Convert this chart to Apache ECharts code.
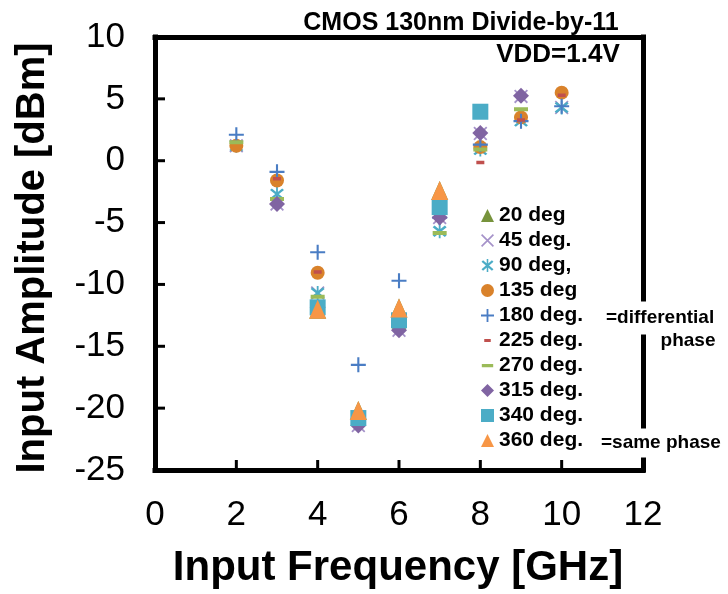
<!DOCTYPE html>
<html>
<head>
<meta charset="utf-8">
<script src="https://cdn.jsdelivr.net/npm/echarts@6/dist/echarts.min.js"></script>
<style>
  html, body { margin: 0; padding: 0; background: #fff; }
  #chart { width: 728px; height: 594px; }
</style>
</head>
<body>
<div id="chart"></div>
<script>
// Input frequency points [GHz]
const freqs = [2, 3, 4, 5, 6, 7, 8, 9, 10];

// Minimum input amplitude [dBm] per phase offset (null = no measurement)
const deg20  = [null, null, -12.0, -20.2, -11.9, -2.4, null, null, null];
const deg45  = [1.2, -3.5, -10.7, -21.4, -13.7, -4.6, 2.2, 5.2, 4.3];
const deg90  = [1.2, -2.7, -10.7, -21.1, -13.4, -5.7, 0.9, 3.2, 4.3];
const deg135 = [1.2, -1.6, -9.05, -20.8, -13.0, -3.8, 1.1, 3.5, 5.5];
const deg180 = [2.1, -0.9, -7.4, -16.5, -9.7, -4.6, 1.3, 3.2, 4.4];
const deg225 = [1.5, -1.45, -9.0, -21.0, -13.3, -4.8, -0.15, 3.3, 5.3];
const deg270 = [1.5, -3.1, -11.0, -21.2, -13.5, -5.85, 0.9, 4.15, null];
const deg315 = [null, -3.5, -11.85, -21.4, -13.7, -4.6, 2.25, 5.25, null];
const deg340 = [null, null, -11.85, -20.8, -12.9, -3.75, 3.96, null, null];
const deg360 = [null, null, -12.0, -20.2, -11.9, -2.4, null, null, null];

const seriesNames = ['20 deg', '45 deg.', '90 deg,', '135 deg', '180 deg.',
                     '225 deg.', '270 deg.', '315 deg.', '340 deg.', '360 deg.'];

// Axis ranges and tick steps
const xRange = [0, 12], xStep = 2;
const yRange = [-25, 10], yStep = 5;

function pts(vals) {
  return freqs.map((f, i) => vals[i] == null ? null : [f, vals[i]]).filter(Boolean);
}

// Marker shapes
const PLUS = 'path://M4.3,0h1.4v10h-1.4z M0,4.3h10v1.4h-10z';
const CROSS = 'path://M0,0.9 L0.9,0 L10,9.1 L9.1,10 Z M9.1,0 L10,0.9 L0.9,10 L0,9.1 Z';
const STAR = 'path://M4.4,0h1.2v10h-1.2z M0.4,2.1 L1.6,0.9 L9.6,7.9 L8.4,9.1 Z M8.4,0.9 L9.6,2.1 L1.6,9.1 L0.4,7.9 Z';
// dashes live in a square 16x16 box (tiny corner dots fix the box size)
const SHORT_DASH = 'path://M0,0h0.01v0.01h-0.01z M4,6.25h8v3.5h-8z M15.99,15.99h0.01v0.01h-0.01z';
const LONG_DASH = 'path://M0,0h0.01v0.01h-0.01z M1,6h14v4h-14z M15.99,15.99h0.01v0.01h-0.01z';

const styles = [
  { data: deg20,  symbol: 'triangle', size: [17, 19], color: '#77933C' },
  { data: deg45,  symbol: CROSS,      size: 14,       color: '#A592C9' },
  { data: deg90,  symbol: STAR,       size: 14,       color: '#4BACC6' },
  { data: deg135, symbol: 'circle',   size: 14,       color: '#D9822B' },
  { data: deg180, symbol: PLUS,       size: 15,       color: '#4A7DC4' },
  { data: deg225, symbol: SHORT_DASH, size: 16,       color: '#C0504D' },
  { data: deg270, symbol: LONG_DASH,  size: 16,       color: '#9BBB59' },
  { data: deg315, symbol: 'diamond',  size: 16,       color: '#8064A2' },
  { data: deg340, symbol: 'rect',     size: 16,       color: '#4BACC6' },
  { data: deg360, symbol: 'triangle', size: [17, 19], color: '#F79646' }
];

const series = styles.map((s, i) => ({
  type: 'scatter',
  name: seriesNames[i],
  symbol: s.symbol,
  symbolSize: s.size,
  data: pts(s.data),
  itemStyle: { color: s.color, opacity: 1 },
  emphasis: { disabled: true },
  animation: false
}));

const ARIAL = '"Liberation Sans", Arial, sans-serif';
const boldArial = (px) => 'bold ' + px + 'px ' + ARIAL;
const BLACK_LINE = { show: true, onZero: false, lineStyle: { color: '#000', width: 5, cap: 'square' } };

// Titles and side notes
const texts = [
  { type: 'text', z: 100, x: 461, y: 23,
    style: { text: 'CMOS 130nm Divide-by-11', font: boldArial(25), fill: '#000', align: 'center', verticalAlign: 'middle' } },
  { type: 'text', z: 100, x: 558, y: 55,
    style: { text: 'VDD=1.4V', font: boldArial(26), fill: '#000', align: 'center', verticalAlign: 'middle' } },
  { type: 'text', z: 100, x: 604, y: 318,
    style: { text: '=differential', font: boldArial(19), fill: '#000', align: 'left', verticalAlign: 'middle',
             backgroundColor: '#fff', padding: [7, 2] } },
  { type: 'text', z: 100, x: 688, y: 341,
    style: { text: 'phase', font: boldArial(19), fill: '#000', align: 'center', verticalAlign: 'middle' } },
  { type: 'text', z: 100, x: 599, y: 443,
    style: { text: '=same phase', font: boldArial(19), fill: '#000', align: 'left', verticalAlign: 'middle',
             backgroundColor: '#fff', padding: [5, 2] } },
  { type: 'text', z: 100, x: 398, y: 568,
    style: { text: 'Input Frequency [GHz]', font: boldArial(42), fill: '#000', align: 'center', verticalAlign: 'middle' } },
  { type: 'text', z: 100, x: 33, y: 258, rotation: Math.PI / 2,
    style: { text: 'Input Amplitude [dBm]', font: boldArial(40), fill: '#000', align: 'center', verticalAlign: 'middle' } }
];

const chart = echarts.init(document.getElementById('chart'), null, { renderer: 'canvas' });
chart.setOption({
  animation: false,
  backgroundColor: '#fff',
  grid: { left: 155, right: 85, top: 37, bottom: 124, show: false },
  xAxis: [
    { type: 'value', position: 'bottom', min: xRange[0], max: xRange[1], interval: xStep, z: 5,
      axisLine: BLACK_LINE, axisTick: { show: false }, splitLine: { show: false },
      axisLabel: { fontSize: 35, fontFamily: ARIAL, color: '#000', margin: 28 } },
    // top frame edge
    { type: 'value', position: 'top', min: xRange[0], max: xRange[1], interval: xStep, z: 5,
      axisLine: BLACK_LINE, axisTick: { show: false }, axisLabel: { show: false }, splitLine: { show: false } }
  ],
  yAxis: [
    { type: 'value', position: 'left', min: yRange[0], max: yRange[1], interval: yStep, z: 5,
      axisLine: BLACK_LINE, axisTick: { show: false }, splitLine: { show: false },
      axisLabel: { fontSize: 35, fontFamily: ARIAL, color: '#000', margin: 30 } },
    // right frame edge
    { type: 'value', position: 'right', min: yRange[0], max: yRange[1], interval: yStep, z: 5,
      axisLine: BLACK_LINE, axisTick: { show: false }, axisLabel: { show: false }, splitLine: { show: false } }
  ],
  legend: {
    orient: 'vertical', left: 481, top: 205, padding: 0,
    itemWidth: 13, itemHeight: 13, itemGap: 4,
    selectedMode: false,
    textStyle: { fontFamily: ARIAL, fontWeight: 'bold', fontSize: 21, color: '#000', lineHeight: 20 },
    data: seriesNames
  },
  graphic: { elements: texts },
  series: series
});

// Inward tick marks on the bottom and left axes, positioned through the axis scales
const TICK_LEN = 10;
const ticks = [];
const yBottom = chart.convertToPixel({ yAxisIndex: 0 }, yRange[0]);
const xLeft = chart.convertToPixel({ xAxisIndex: 0 }, xRange[0]);
for (let v = xRange[0] + xStep; v < xRange[1]; v += xStep) {
  const px = chart.convertToPixel({ xAxisIndex: 0 }, v);
  ticks.push({ type: 'rect', z: 50,
               shape: { x: px - 1.5, y: yBottom - TICK_LEN, width: 3, height: TICK_LEN },
               style: { fill: '#000' } });
}
for (let v = yRange[0] + yStep; v < yRange[1]; v += yStep) {
  const py = chart.convertToPixel({ yAxisIndex: 0 }, v);
  ticks.push({ type: 'rect', z: 50,
               shape: { x: xLeft, y: py - 1.5, width: TICK_LEN, height: 3 },
               style: { fill: '#000' } });
}
chart.setOption({ graphic: { elements: texts.concat(ticks) } });
</script>
</body>
</html>
